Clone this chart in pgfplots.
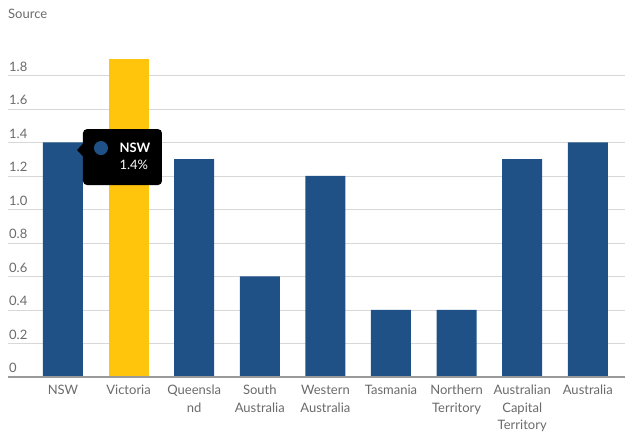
\documentclass[border=0pt]{standalone}
\usepackage{pgfplots}
\pgfplotsset{compat=1.18}
\usepackage{fontspec}
\setmainfont{Lato}
\definecolor{barblue}{HTML}{1F5186}
\definecolor{baryellow}{HTML}{FFC40C}
\definecolor{txtgray}{HTML}{6A6A6A}
\definecolor{gridgray}{HTML}{D8D8D8}
\definecolor{axisgray}{HTML}{9A9A9A}
\begin{document}
\begin{tikzpicture}
\useasboundingbox (0,0) rectangle (640bp,447bp);
\node[anchor=west, inner sep=0pt, text=txtgray, font=\fontsize{13bp}{15bp}\selectfont] at (8bp,433bp) {Source};
\begin{axis}[
  at={(8bp,70bp)}, anchor=south west,
  scale only axis, width=617bp, height=335bp,
  xmin=-0.838, xmax=8.567, ymin=0, ymax=2.0,
  axis line style={draw=none},
  major tick length=0pt,
  xtick={0,1,2,3,4,5,6,7,8},
  xticklabels={NSW,Victoria,{Queensla\\nd},{South\\Australia},{Western\\Australia},Tasmania,{Northern\\Territory},{Australian\\Capital\\Territory},Australia},
  xticklabel style={align=center, anchor=north, inner sep=0pt, yshift=-8bp, text=txtgray, font=\fontsize{13bp}{17.5bp}\selectfont},
  ytick={0,0.2,0.4,0.6,0.8,1.0,1.2,1.4,1.6,1.8},
  yticklabels={0,0.2,0.4,0.6,0.8,1.0,1.2,1.4,1.6,1.8},
  yticklabel style={anchor=south west, inner sep=0pt, yshift=4bp, xshift=1bp, text=txtgray, font=\fontsize{13bp}{15bp}\selectfont},
  ymajorgrids, grid style={gridgray, line width=0.8bp},
  clip=false,
]
\addplot[ybar, bar width=40bp, bar shift=0pt, fill=barblue, draw=none]
  coordinates {(0,1.4) (2,1.3) (3,0.6) (4,1.2) (5,0.4) (6,0.4) (7,1.3) (8,1.4)};
\addplot[ybar, bar width=40bp, bar shift=0pt, fill=baryellow, draw=none]
  coordinates {(1,1.9)};
\draw[axisgray, line width=1.2bp] (rel axis cs:0,0) -- (rel axis cs:1,0);
% tooltip
\fill[black, rounded corners=4bp] (axis cs:0.305,1.146) rectangle (axis cs:1.509,1.48);
\fill[black] (axis cs:0.31,1.395) -- (axis cs:0.215,1.355) -- (axis cs:0.31,1.315) -- cycle;
\fill[barblue] (axis cs:0.579,1.367) circle (7bp);
\node[anchor=west, inner sep=0pt, text=white, font=\bfseries\fontsize{13bp}{15bp}\selectfont] at (axis cs:0.86,1.367) {NSW};
\node[anchor=west, inner sep=0pt, text=white, font=\fontsize{13bp}{15bp}\selectfont] at (axis cs:0.86,1.265) {1.4\%};
\end{axis}
\end{tikzpicture}
\end{document}
